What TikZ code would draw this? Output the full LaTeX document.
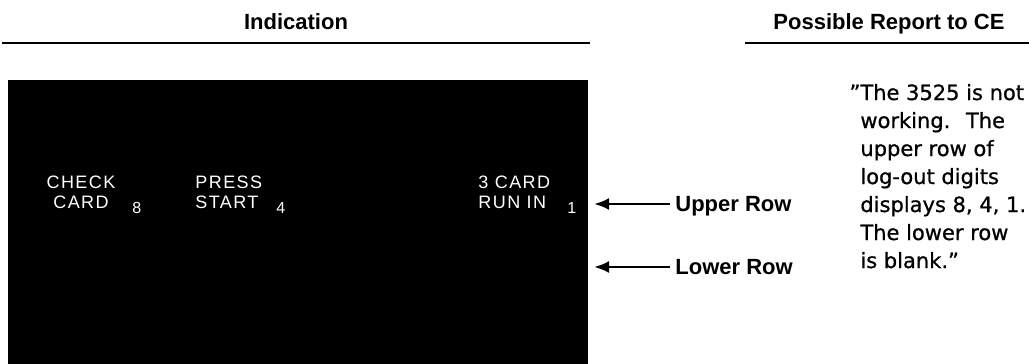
\documentclass[tikz,border=0pt]{standalone}
\usepackage{fontspec}
\setmainfont{Liberation Sans}
\newfontfamily\dispfont[LetterSpace=8]{Liberation Sans}
\newfontfamily\reportfont[FakeBold=0.8]{DejaVu Sans}
\usetikzlibrary{arrows.meta}

\begin{document}
\begin{tikzpicture}[x=0.5pt,y=-0.5pt,
        head/.style={font=\fontsize{11}{13}\selectfont\bfseries, inner sep=0pt, anchor=base},
        disp/.style={font=\dispfont\fontsize{9}{11}\selectfont, text=white, inner sep=0pt, anchor=base west},
        digit/.style={font=\fontsize{8}{10}\selectfont, text=white, inner sep=0pt, anchor=base west},
        rowlabel/.style={font=\fontsize{11}{13}\selectfont\bfseries, inner sep=2.5pt, text depth=0pt, anchor=west},
        rowarrow/.style={line width=1.3pt, -{Latex[length=7.5pt,width=6pt]}}]
                \useasboundingbox (0,0) rectangle (1029,364);

                \node[head] (ind) at (296,30) {Indication};
                \node[head] (rep) at (889,30) {Possible Report to CE};
                \draw[line width=1.3pt] (2,43) -- (590,43);
                \draw[line width=1.3pt] (745,43) -- (1029,43);

                \fill (8,80) rectangle (588,364);

                \node[disp, anchor=base] (check) at (81,188) {CHECK};
                \node[disp, anchor=base] (card) at (81,208) {CARD};
                \node[digit] (d8) at (132,213) {8};

                \node[disp] (press) at (195,188) {PRESS};
                \node[disp] (start) at (195,208) {START};
                \node[digit] (d4) at (276,213) {4};

                \node[disp] (threecard) at (478,188) {3 CARD};
                \node[disp] (runin) at (478,208) {RUN IN};
                \node[digit] (d1) at (567,213) {1};

                \coordinate (uptip) at (594,204);
                \coordinate (lowtip) at (594,267);
                \node[rowlabel] (upper) at (670,204) {Upper Row};
                \node[rowlabel] (lower) at (670,267) {Lower Row};
                \draw[rowarrow] (upper.west) -- (uptip);
                \draw[rowarrow] (lower.west) -- (lowtip);

                \node[font=\reportfont\fontsize{10.5}{14}\selectfont, align=left, inner sep=0pt, anchor=base west] (report) at (860,268)
                    {\llap{”}The 3525 is not\\ working.~ The\\ upper row of\\ log-out digits\\ displays 8, 4, 1.\\ The lower row\\ is blank.”};
            \end{tikzpicture}
\end{document}
